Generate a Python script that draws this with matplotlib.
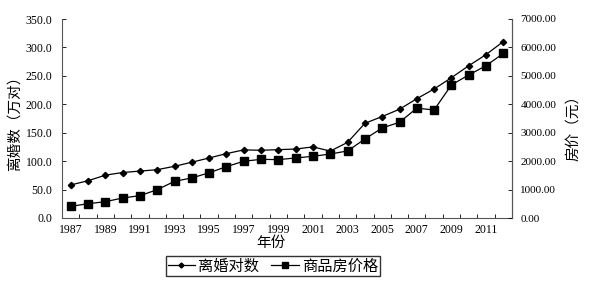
import numpy as np
import matplotlib.pyplot as plt

plt.rcParams['font.family'] = ['Noto Sans CJK SC', 'DejaVu Sans']

years = list(range(1987, 2013))
divorce = [58.1, 65.5, 75.3, 80.0, 82.5, 85.0, 90.9, 98.1, 105.6, 113.2,
           119.8, 119.1, 120.2, 121.3, 125.1, 117.7, 133.0, 166.5, 178.5,
           191.3, 209.8, 226.9, 246.8, 267.8, 287.4, 310.4]
price = [408, 503, 573, 703, 786, 995, 1291, 1409, 1591, 1806, 1997, 2063,
         2053, 2112, 2170, 2250, 2359, 2778, 3168, 3367, 3864, 3800, 4681,
         5032, 5357, 5791]

serif = 'Liberation Serif'

fig = plt.figure(figsize=(5.89, 2.82), dpi=100)
ax = fig.add_axes([62 / 589, 64 / 282, 450 / 589, 199 / 282])
ax2 = ax.twinx()

x = np.arange(len(years))
l1, = ax.plot(x, divorce, color='black', lw=0.9, marker='D', ms=3.2,
              label='离婚对数')
l2, = ax2.plot(x, price, color='black', lw=0.9, marker='s', ms=5.5,
               label='商品房价格')

ax.set_xlim(-0.5, len(years) - 0.5)
ax.set_ylim(0, 350)
ax2.set_ylim(0, 7000)

ax.set_yticks(np.arange(0, 351, 50))
ax.set_yticklabels(['%.1f' % v for v in np.arange(0, 351, 50)],
                   fontfamily=serif, fontsize=8.5)
ax2.set_yticks(np.arange(0, 7001, 1000))
ax2.set_yticklabels(['%.2f' % v for v in np.arange(0, 7001, 1000)],
                    fontfamily=serif, fontsize=8)
ax.set_xticks(x[::2])
ax.set_xticklabels([str(y) for y in years[::2]], fontfamily=serif, fontsize=8.5)
ax.set_xticks(np.arange(-0.5, len(years), 1.0), minor=True)
ax.tick_params(axis='x', which='major', length=0, pad=4)
ax.tick_params(axis='x', which='minor', direction='in', length=3, width=0.6)
ax.tick_params(axis='y', direction='in', length=3, width=0.6, pad=7)
ax2.tick_params(axis='y', direction='in', length=3, width=0.6, pad=6)

for a in (ax, ax2):
    a.spines['top'].set_visible(False)
    for s in a.spines.values():
        s.set_linewidth(0.8)
        s.set_color('#555555')
ax2.spines['left'].set_visible(False)
ax2.spines['bottom'].set_visible(False)

fig.text(15 / 589, 1 - 120 / 282, '离婚数（万对）', rotation=90,
         ha='center', va='center', fontsize=10.5)
fig.text(573 / 589, 1 - 124 / 282, '房价（元）', rotation=90,
         ha='center', va='center', fontsize=10.5)
fig.text(271 / 589, 1 - 243 / 282, '年份', ha='center', va='center', fontsize=10.5)

leg = fig.legend(handles=[l1, l2], loc='center', ncol=2,
                 bbox_to_anchor=(273 / 589, 1 - 266 / 282), fontsize=11,
                 frameon=True, fancybox=False, handlelength=1.8,
                 handletextpad=0.2, columnspacing=0.8, borderpad=0.1,
                 markerscale=0.8)
leg.get_frame().set_edgecolor('black')
leg.get_frame().set_linewidth(1.0)

fig.savefig('out.png', dpi=100)
